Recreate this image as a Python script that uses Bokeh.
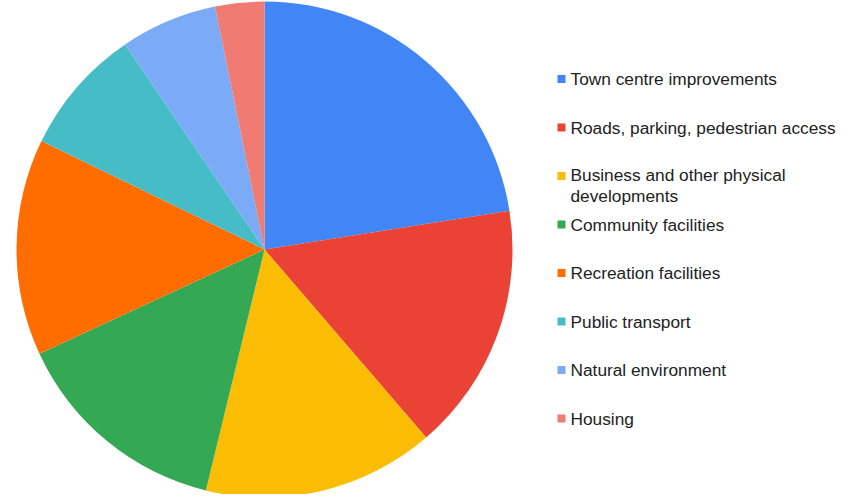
import numpy as np
from bokeh.plotting import figure
from bokeh.models import ColumnDataSource, Range1d
from bokeh.core.properties import value
from bokeh.embed import file_html
from bokeh.resources import INLINE

categories = [
    "Town centre improvements",
    "Roads, parking, pedestrian access",
    "Business and other physical\ndevelopments",
    "Community facilities",
    "Recreation facilities",
    "Public transport",
    "Natural environment",
    "Housing",
]
shares = [22.5, 16.2, 15.1, 14.3, 14.1, 8.3, 6.3, 3.2]
colors = ["#4285F4", "#EA4335", "#FBBC04", "#34A853", "#FF6D01", "#46BDC6", "#7BAAF7", "#F07B72"]

W, H = 851, 494
cx, cy, r = 264, 245, 248

vals = np.array(shares, dtype=float)
frac = vals / vals.sum()
cum = np.concatenate([[0], np.cumsum(frac)])
start = np.pi / 2 - 2 * np.pi * cum[:-1]
end = np.pi / 2 - 2 * np.pi * cum[1:]

p = figure(width=W, height=H, output_backend="svg", toolbar_location=None,
           x_range=Range1d(0, W), y_range=Range1d(0, H), min_border=0)
p.axis.visible = False
p.grid.visible = False
p.outline_line_color = None
p.background_fill_color = "white"
p.border_fill_color = "white"

src = ColumnDataSource(dict(start=start, end=end, color=colors))
p.wedge(x=cx, y=cy, radius=r, start_angle="start", end_angle="end",
        direction="clock", fill_color="color", line_color=None, source=src)

# legend
row0 = H - 78.5
step = 48.5
fs = 17.3
line_h = 19
nlines = np.array([c.count("\n") + 1 for c in categories])
rows = row0 - step * np.arange(len(categories))
ty = rows - (nlines - 1) * line_h / 2
lsrc = ColumnDataSource(dict(sx=[561] * len(categories), sy=rows, tx=[570] * len(categories),
                             ty=ty, label=categories, color=colors))
p.rect(x="sx", y="sy", width=8, height=8, fill_color="color", line_color=None, source=lsrc)
p.text(x="tx", y="ty", text="label", source=lsrc, text_font=value("Liberation Sans"),
       text_font_size=f"{fs}px", text_baseline="middle", text_align="left",
       text_color="#222222", text_line_height=line_h / fs)

open("out.html", "w").write(file_html(p, INLINE))
